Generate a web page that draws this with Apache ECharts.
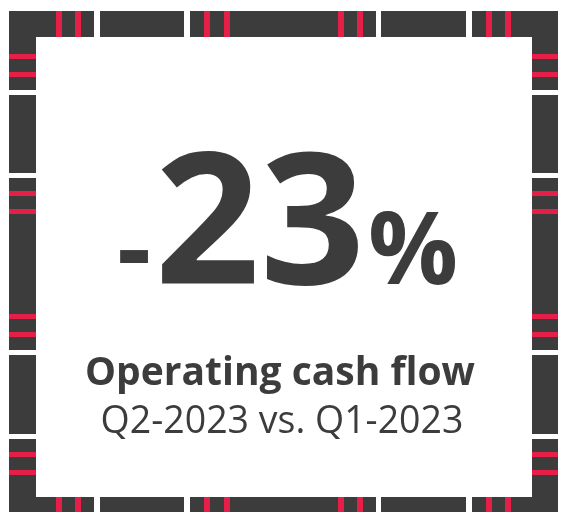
<!DOCTYPE html>
<html>
<head>
<meta charset="utf-8">
<script src="https://cdn.jsdelivr.net/npm/echarts@6/dist/echarts.min.js"></script>
<style>
  html, body { margin: 0; padding: 0; background: #fff; }
  #tile { width: 563px; height: 512px; }
</style>
</head>
<body>
<div id="tile"></div>
<script>
// KPI data
var kpiValues = [-23];
var kpiUnits = ['%'];
var metricNames = ['Operating cash flow'];
var periods = ['Q2-2023', 'Q1-2023'];

var dark = '#3c3c3c';
var red = '#e51f47';
var font = '"Open Sans", "Liberation Sans", sans-serif';

// frame layout (decoration)
var hSegs = [[9, 94], [100, 184], [190, 376], [381, 466], [472, 558]];
var vSegs = [[11, 90], [95, 173], [178, 350], [355, 434], [439, 512]];
var hStripes = [56, 75, 204, 224, 338, 357, 486, 505]; // x of vertical red stripes
var vStripes = [54, 72, 191, 209, 314, 332, 452, 470]; // y of horizontal red stripes

var chartDom = document.getElementById('tile');
var myChart = echarts.init(chartDom);
var option;

var els = [];
function rect(x, y, w, h, c) {
    els.push({ type: 'rect', shape: { x: x, y: y, width: w, height: h }, style: { fill: c }, silent: true });
}
hSegs.forEach(function (s) {
    rect(s[0], 11, s[1] - s[0], 26, dark);   // top band
    rect(s[0], 497, s[1] - s[0], 15, dark);  // bottom band
});
vSegs.forEach(function (s) {
    rect(9, s[0], 27, s[1] - s[0], dark);    // left band
    rect(532, s[0], 26, s[1] - s[0], dark);  // right band
});
hStripes.forEach(function (x) {
    rect(x, 11, 6, 26, red);
    rect(x, 497, 6, 15, red);
});
vStripes.forEach(function (y) {
    rect(9, y, 27, 5, red);
    rect(532, y, 26, 5, red);
});

var v = kpiValues[0];
var sign = v < 0 ? '-' : '+';
var num = String(Math.abs(v));

function txt(t, x, y, size, weight, align) {
    els.push({
        type: 'text',
        style: {
            text: t, x: x, y: y,
            fill: dark,
            fontSize: size, fontWeight: weight, fontFamily: font,
            textAlign: align, textVerticalAlign: 'middle'
        },
        silent: true
    });
}
txt(sign, 151, 255, 106, 'bold', 'right');
txt(num, 260, 232, 184, 'bold', 'center');
txt(kpiUnits[0], 368, 256, 100, 'bold', 'left');
txt(metricNames[0], 280, 374, 39, 'bold', 'center');
txt(periods[0] + ' vs. ' + periods[1], 282, 422, 37.5, 'normal', 'center');

option = {
    backgroundColor: '#ffffff',
    animation: false,
    graphic: { elements: els }
};

option && myChart.setOption(option);
window.onresize = function () {
    myChart.resize();
};
</script>
</body>
</html>
